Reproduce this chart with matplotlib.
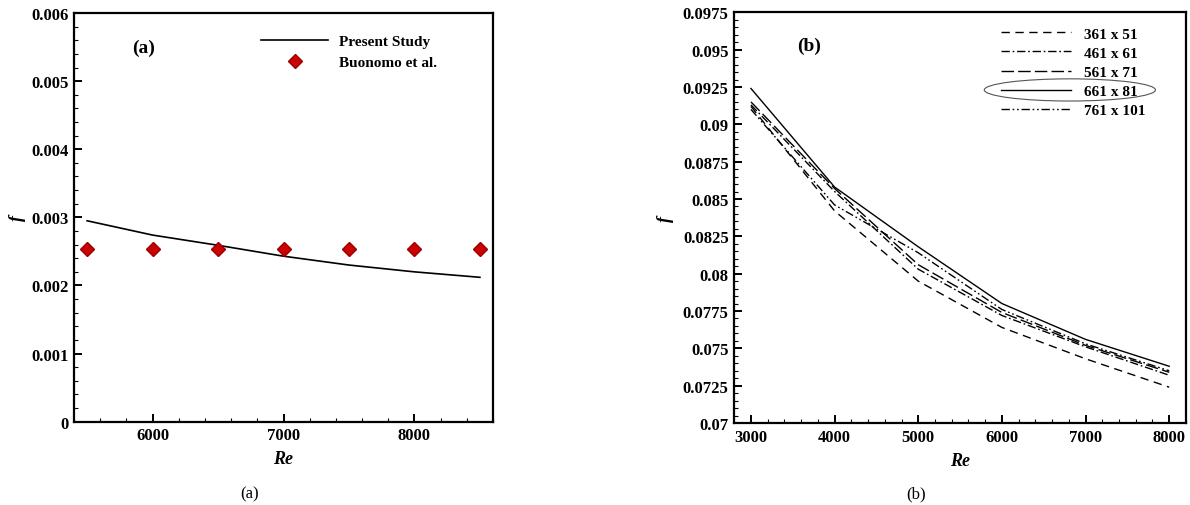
import matplotlib
matplotlib.use("Agg")
import matplotlib.pyplot as plt
from matplotlib.patches import Ellipse
from matplotlib.ticker import MultipleLocator, FixedLocator

# ----------------------------------------------------------------------------
#  DATA
# ----------------------------------------------------------------------------
# (a) validation
re_a        = [5500, 6000, 6500, 7000, 7500, 8000, 8500]
f_present   = [0.00295, 0.00274, 0.00259, 0.00243, 0.00230, 0.00220, 0.00212]
f_buonomo   = [0.00254, 0.00254, 0.00254, 0.00254, 0.00254, 0.00254, 0.00254]
y_ticks_a   = [0, 0.001, 0.002, 0.003, 0.004, 0.005, 0.006]
y_labels_a  = ['0', '0.001', '0.002', '0.003', '0.004', '0.005', '0.006']

# (b) grid independence
re_b        = [3000, 4000, 5000, 6000, 7000, 8000]
grid_labels = ['361 x 51', '461 x 61', '561 x 71', '661 x 81', '761 x 101']
f_361       = [0.0912, 0.0842, 0.0795, 0.0764, 0.0743, 0.0724]
f_461       = [0.0913, 0.0855, 0.0803, 0.0772, 0.0751, 0.0732]
f_561       = [0.0915, 0.0857, 0.0806, 0.0774, 0.0752, 0.0734]
f_661       = [0.0924, 0.0858, 0.0818, 0.0780, 0.0756, 0.0738]
f_761       = [0.0910, 0.0846, 0.0814, 0.0776, 0.0753, 0.0735]
y_ticks_b   = [0.07, 0.0725, 0.075, 0.0775, 0.08, 0.0825, 0.085, 0.0875,
               0.09, 0.0925, 0.095, 0.0975]
y_labels_b  = ['0.07', '0.0725', '0.075', '0.0775', '0.08', '0.0825', '0.085',
               '0.0875', '0.09', '0.0925', '0.095', '0.0975']

# ----------------------------------------------------------------------------
#  STYLE
# ----------------------------------------------------------------------------
plt.rcParams['font.family'] = ['Liberation Serif', 'DejaVu Serif']
plt.rcParams['font.weight'] = 'bold'
tick_fs = 12


def style_axes(ax):
    for s in ax.spines.values():
        s.set_linewidth(1.6)
    ax.tick_params(which='major', direction='in', length=6, width=1.4,
                   top=False, right=False, labelsize=tick_fs, pad=4)
    ax.tick_params(which='minor', direction='in', length=3, width=0.8,
                   top=False, right=False)
    for lab in ax.get_xticklabels() + ax.get_yticklabels():
        lab.set_fontweight('bold')


fig = plt.figure(figsize=(11.9, 5.06), dpi=100)

# ----------------------------------------------------------------------------
#  (a)
# ----------------------------------------------------------------------------
ax1 = fig.add_axes([0.0622, 0.1646, 0.3521, 0.8077])
ax1.plot(re_a, f_present, color='black', linewidth=1.2, label='Present Study')
ax1.plot(re_a, f_buonomo, linestyle='none', marker='D', markersize=7,
         markerfacecolor='#cc0000', markeredgecolor='#990000',
         label='Buonomo et al.')
ax1.set_xlim(5400, 8600)
ax1.set_ylim(0, 0.006)
ax1.xaxis.set_major_locator(FixedLocator([6000, 7000, 8000]))
ax1.xaxis.set_minor_locator(MultipleLocator(200))
ax1.yaxis.set_major_locator(FixedLocator(y_ticks_a))
ax1.yaxis.set_minor_locator(MultipleLocator(0.0002))
ax1.set_yticklabels(y_labels_a)
style_axes(ax1)
ax1.set_xlabel('Re', fontsize=13, fontstyle='italic', fontweight='bold', labelpad=5)
ax1.set_ylabel('f', fontsize=13, fontstyle='italic', fontweight='bold', labelpad=4)
ax1.text(0.165, 0.915, '(a)', transform=ax1.transAxes, fontsize=14,
         fontweight='bold', ha='center', va='center')
ax1.legend(loc='upper left', bbox_to_anchor=(0.446, 0.947), frameon=False,
           fontsize=11, handlelength=4.4, handletextpad=0.7, labelspacing=0.47,
           numpoints=1, borderpad=0, borderaxespad=0)
fig.text(0.21, 0.022, '(a)', fontsize=12, fontweight='normal', ha='center',
         va='center')

# ----------------------------------------------------------------------------
#  (b)
# ----------------------------------------------------------------------------
ax2 = fig.add_axes([0.617, 0.162, 0.3796, 0.8117])
dashes = [(6, 4), (6, 2, 1.2, 2), (9, 3), (), (6, 2, 1.2, 2, 1.2, 2)]
for vals, lab, d in zip([f_361, f_461, f_561, f_661, f_761], grid_labels, dashes):
    ln, = ax2.plot(re_b, vals, color='black', linewidth=1.0, label=lab)
    if d:
        ln.set_dashes(d)
ax2.set_xlim(2800, 8200)
ax2.set_ylim(0.07, 0.0975)
ax2.xaxis.set_major_locator(MultipleLocator(1000))
ax2.xaxis.set_minor_locator(MultipleLocator(200))
ax2.yaxis.set_major_locator(FixedLocator(y_ticks_b))
ax2.yaxis.set_minor_locator(MultipleLocator(0.0005))
ax2.set_yticklabels(y_labels_b)
style_axes(ax2)
ax2.set_xlabel('Re', fontsize=13, fontstyle='italic', fontweight='bold', labelpad=5)
ax2.set_ylabel('f', fontsize=13, fontstyle='italic', fontweight='bold', labelpad=6)
ax2.text(0.165, 0.92, '(b)', transform=ax2.transAxes, fontsize=14,
         fontweight='bold', ha='center', va='center')
ax2.legend(loc='upper left', bbox_to_anchor=(0.59, 0.9645), frameon=False,
           fontsize=11, handlelength=4.6, handletextpad=0.85, labelspacing=0.36,
           borderpad=0, borderaxespad=0)
ax2.add_patch(Ellipse((0.743, 0.811), 0.379, 0.054, transform=ax2.transAxes,
                      fill=False, edgecolor='#555555', linewidth=0.8))
fig.text(0.77, 0.022, '(b)', fontsize=12, fontweight='normal', ha='center',
         va='center')

fig.savefig('out.png', dpi=100)
